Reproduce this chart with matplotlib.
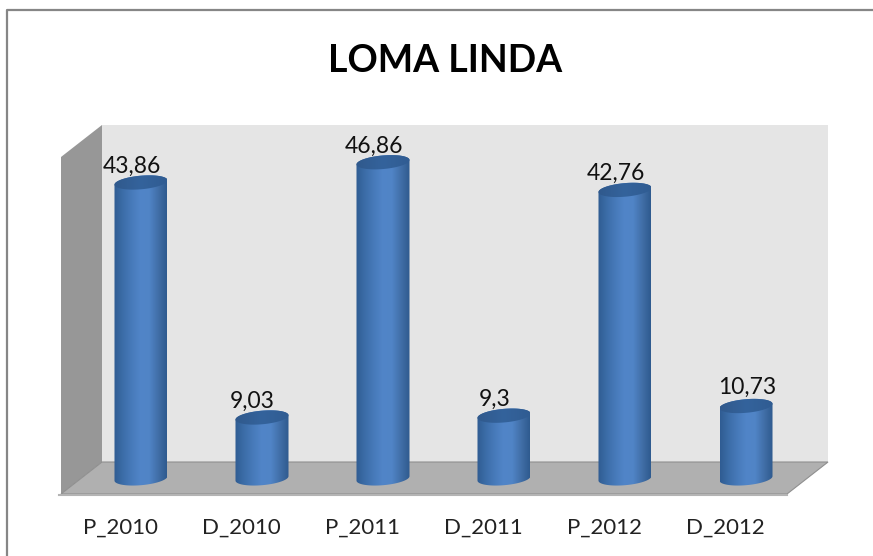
#!/usr/bin/env python3
"""LOMA LINDA - 3D style cylinder column chart"""

import numpy as np
import matplotlib
matplotlib.use('Agg')
import matplotlib.pyplot as plt
from matplotlib.patches import Polygon
from matplotlib.colors import LinearSegmentedColormap

TITLE = 'LOMA LINDA'
categories = ['P_2010', 'D_2010', 'P_2011', 'D_2011', 'P_2012', 'D_2012']
values = [43.86, 9.03, 46.86, 9.3, 42.76, 10.73]
value_labels = ['43,86', '9,03', '46,86', '9,3', '42,76', '10,73']

W, H = 873, 556
plt.rcParams['font.family'] = ['Lato', 'DejaVu Sans']

fig = plt.figure(figsize=(W / 100, H / 100), dpi=100, facecolor='white')

# 배경 (벽, 바닥) - 픽셀 좌표
bg = fig.add_axes([0, 0, 1, 1], zorder=1)
bg.set_xlim(0, W)
bg.set_ylim(H, 0)
bg.axis('off')

bg.plot([7, 7, 873], [556, 10, 10], color='#868686', lw=1.6, solid_capstyle='butt')
bg.add_patch(Polygon([(102, 125), (828, 125), (828, 462), (102, 462)], fc='#e5e5e5', ec='none'))
bg.add_patch(Polygon([(61, 157), (102, 125), (102, 462), (61, 494)], fc='#979797', ec='none'))
bg.add_patch(Polygon([(61, 494), (102, 462), (828, 462), (787, 494)], fc='#b0b0b0', ec='#8f8f8f', lw=0.8))
bg.plot([59, 787], [495, 495], color='#b4b4b4', lw=1.5)

# 막대 축 - 픽셀 위치에 맞춤
px_per_cat = 121.0
px_per_val = 6.747
x0_px = 141.0
y0_px = 478.4
ax = fig.add_axes([0, 0, 1, 1], zorder=2)
ax.axis('off')
ax.patch.set_alpha(0)

side_cmap = LinearSegmentedColormap.from_list(
    'side', ['#2f5c92', '#3c6da8', '#477aba', '#5185c8', '#5084c6', '#416fa8', '#2f5a8e'])
top_cmap = LinearSegmentedColormap.from_list(
    'top', ['#30598c', '#34639c', '#305c92'])
gradient = np.linspace(0, 1, 256).reshape(1, -1)

half_w = 26.5 / px_per_cat
semi_h = 6.8 / px_per_val
tilt = 2.2 / px_per_val
t = np.linspace(0, 2 * np.pi, 120)


def ellipse(cx, cy, tt):
    return cx + half_w * np.cos(tt), cy + semi_h * np.sin(tt) + tilt * np.cos(tt)


for i, v in enumerate(values):
    # 몸통: 위쪽 타원 윗변 + 아래쪽 타원 아랫변
    tx, ty = ellipse(i, v, np.linspace(0, np.pi, 60))
    bx, by = ellipse(i, 0, np.linspace(np.pi, 2 * np.pi, 60))
    body = np.column_stack([np.r_[tx, bx], np.r_[ty, by]])
    im = ax.imshow(gradient, cmap=side_cmap, aspect='auto', zorder=3,
                   extent=[i - half_w, i + half_w, -3, v + 3])
    im.set_clip_path(Polygon(body, closed=True, transform=ax.transData))

    ex, ey = ellipse(i, v, t)
    top = np.column_stack([ex, ey])
    im2 = ax.imshow(gradient, cmap=top_cmap, aspect='auto', zorder=4,
                    extent=[i - half_w, i + half_w, v - 3, v + 3])
    im2.set_clip_path(Polygon(top, closed=True, transform=ax.transData))

    # 10,73 라벨만 원본에서 막대 중앙에 있음
    label_off = (0.5, 8.5) if i == 5 else (-6.8, 7)
    ax.annotate(value_labels[i], (i, v), xytext=label_off, textcoords='offset points',
                ha='center', va='baseline', fontsize=16.5, color='#111111', zorder=5)
    ax.annotate(categories[i], (i, 0), xytext=(-14.8, -39.8), textcoords='offset points',
                ha='center', va='baseline', fontsize=16, color='#222222', zorder=5)

ax.set_xlim(-x0_px / px_per_cat, (W - x0_px) / px_per_cat)
ax.set_ylim((y0_px - H) / px_per_val, y0_px / px_per_val)

fig.text(445 / W, 1 - 61.5 / H, TITLE, ha='center', va='center', fontsize=27,
         fontweight='bold', color='black', zorder=6)

fig.savefig('out.png', dpi=100)
